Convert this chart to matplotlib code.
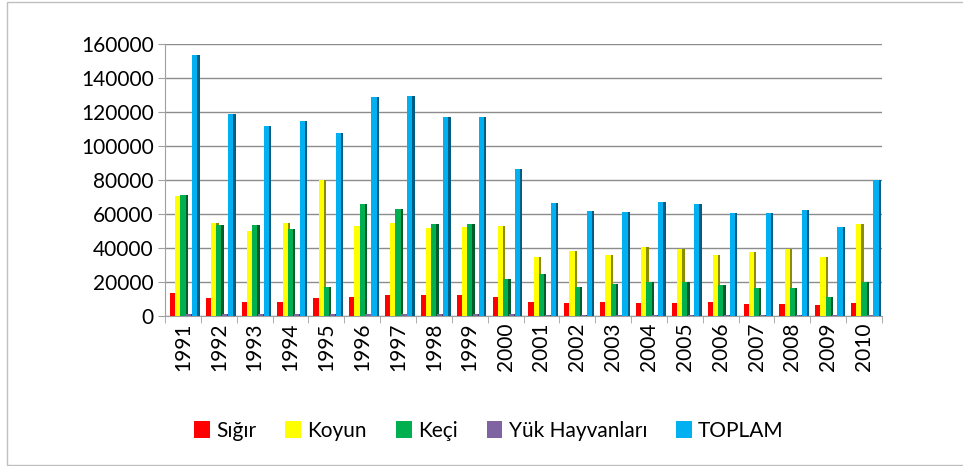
import numpy as np
import matplotlib.pyplot as plt
from matplotlib.patches import Rectangle

plt.rcParams['font.family'] = ['Lato', 'DejaVu Sans']

# ---------------- data ----------------
years = [str(y) for y in range(1991, 2011)]
sigir = [13400, 10800, 8000, 8500, 10400, 11400, 12400, 12400, 12400, 11400,
         8300, 7500, 8300, 7900, 7900, 8300, 7300, 7300, 6300, 7900]
koyun = [70500, 55000, 50000, 54700, 80000, 52800, 54500, 52000, 52500, 52800,
         34800, 38400, 35800, 40700, 39200, 35800, 37800, 39400, 34800, 54000]
keci = [71000, 53700, 53700, 51000, 17300, 66000, 63000, 54000, 54000, 22000,
        24600, 17100, 18700, 20000, 20000, 18100, 16700, 16700, 11400, 20000]
yuk = [1300, 1200, 1100, 1100, 1000, 1000, 1000, 900, 900, 900,
       800, 800, 700, 700, 700, 600, 600, 600, 500, 500]
toplam = [153500, 119000, 111600, 114600, 107900, 129000, 129500, 117000, 117000, 86600,
          66700, 61800, 61400, 67300, 65900, 60600, 60600, 62600, 52200, 80000]

series = [
    ("Sığır", sigir, "#FF0000", "#B00000"),
    ("Koyun", koyun, "#FFFF00", "#8C8C00"),
    ("Keçi", keci, "#00B050", "#005C2A"),
    ("Yük Hayvanları", yuk, "#8064A2", "#4B3A60"),
    ("TOPLAM", toplam, "#00B0F0", "#005C80"),
]
offsets = [-0.29, -0.145, 0.0, 0.165, 0.33]

# ---------------- plot ----------------
fig = plt.figure(figsize=(9.63, 4.66), dpi=100)
ax = fig.add_axes([165/963, 1-316/466, (882-165)/963, (316-44)/466])

x = np.arange(len(years))
w = 0.145
d = 0.065
for k, (name, vals, col, dark) in enumerate(series):
    xs = x + offsets[k]
    ax.bar(xs, vals, width=w, color=col, zorder=3 + 2*k, label=name)
    # darker side face for the 3D look
    ax.bar(xs + w/2 + d/2, vals, width=d, color=dark, zorder=2 + 2*k)

ax.set_xlim(-0.5, len(years) - 0.5)
ax.set_ylim(0, 160000)
ax.set_yticks(np.arange(0, 160001, 20000))
ax.set_yticklabels([str(v) for v in range(0, 160001, 20000)], fontsize=15)
ax.set_xticks(x)
ax.set_xticklabels(years, rotation=90, fontsize=15)
ax.set_xticks(np.arange(-0.5, len(years), 1), minor=True)
ax.tick_params(axis='x', which='major', length=0, pad=5)
ax.tick_params(axis='x', which='minor', length=5, color='#A0A0A0')
ax.tick_params(axis='y', length=5, color='#A0A0A0', pad=3)

ax.grid(axis='y', color='#8C8C8C', linewidth=1, zorder=0)
for s in ['top', 'right']:
    ax.spines[s].set_visible(False)
for s in ['left', 'bottom']:
    ax.spines[s].set_color('#A0A0A0')

ax.legend(loc='center', bbox_to_anchor=(489/963, (466-431)/466), bbox_transform=fig.transFigure,
          ncol=5, frameon=False, fontsize=15, handlelength=0.75, handleheight=0.9,
          handletextpad=0.3, columnspacing=1.4)

fig.patches.append(Rectangle((7/963, 1/466), 0.999, 463/466, transform=fig.transFigure,
                             fill=False, edgecolor='#BFBFBF', linewidth=1))

fig.savefig("out.png", dpi=100)
